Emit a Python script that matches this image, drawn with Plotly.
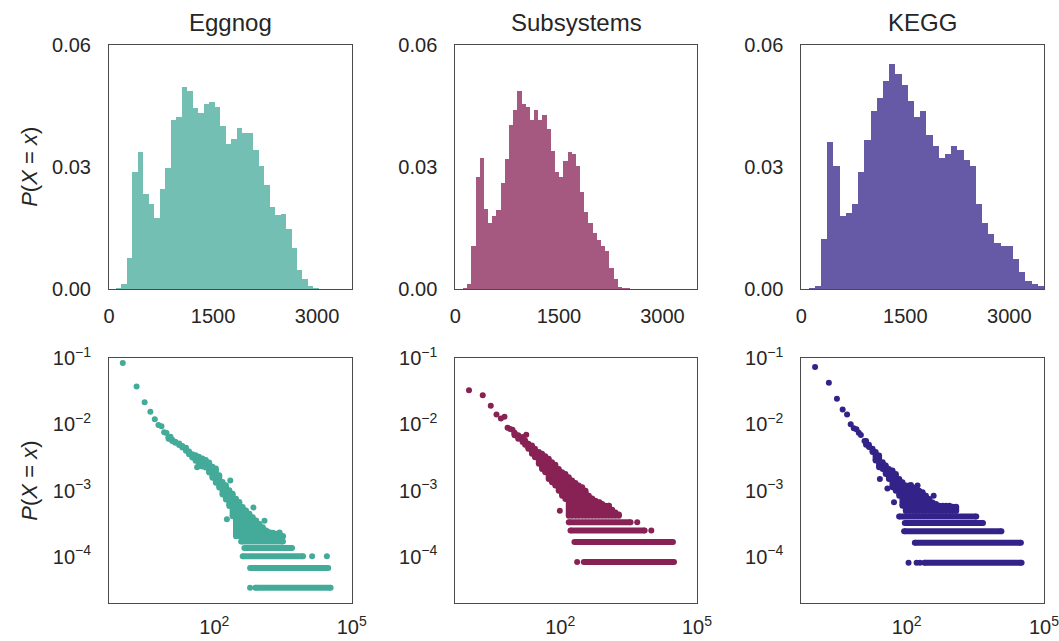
import plotly.graph_objects as go

# ---------------- top row: length distributions (probability per bin) ----------------
eggnog_hist = [0.0002, 0.0012, 0.0078, 0.0289, 0.0336, 0.0233, 0.0209, 0.0176, 0.0246, 0.0297,
               0.0417, 0.0424, 0.0497, 0.0487, 0.0446, 0.0434, 0.0455, 0.0460, 0.0448, 0.0402,
               0.0358, 0.0368, 0.0397, 0.0383, 0.0383, 0.0342, 0.0302, 0.0257, 0.0202, 0.0182,
               0.0184, 0.0147, 0.0101, 0.0048, 0.0025, 0.0009, 0.0003]
eggnog_bin_start, eggnog_bin_width = 101, 79.1

subsystems_hist = [0.0002, 0.0013, 0.0107, 0.0275, 0.0322, 0.0198, 0.0162, 0.0180, 0.0196, 0.0260,
                   0.0320, 0.0404, 0.0441, 0.0488, 0.0454, 0.0448, 0.0417, 0.0441, 0.0417, 0.0428,
                   0.0394, 0.0339, 0.0289, 0.0277, 0.0315, 0.0336, 0.0333, 0.0302, 0.0240, 0.0191,
                   0.0163, 0.0138, 0.0122, 0.0107, 0.0093, 0.0052, 0.0025, 0.0005, 0.0003, 0.0002]
subsystems_bin_start, subsystems_bin_width = 115, 60.6

kegg_hist = [0.0002, 0.0009, 0.0123, 0.0363, 0.0302, 0.0180, 0.0187, 0.0209, 0.0289, 0.0366,
             0.0437, 0.0471, 0.0512, 0.0554, 0.0529, 0.0503, 0.0463, 0.0424, 0.0439, 0.0378,
             0.0351, 0.0323, 0.0332, 0.0351, 0.0343, 0.0317, 0.0302, 0.0209, 0.0164, 0.0137,
             0.0114, 0.0106, 0.0106, 0.0075, 0.0042, 0.0020, 0.0012, 0.0007]
kegg_bin_start, kegg_bin_width = 111, 89.3

# ---------------- bottom row: degree distributions P(X = x) ----------------
# individually resolved points
eggnog_pts_x = [1, 2, 3, 4, 5, 6, 7, 8, 9, 11, 42, 223, 188, 713, 1245, 2661, 603, 13650, 28700]
eggnog_pts_y = [0.085, 0.0375, 0.0217, 0.0155, 0.0120, 0.0098, 0.0094, 0.0076, 0.0074, 0.0065,
                0.00226, 0.00142, 0.00037, 0.000557, 0.000349, 0.000232, 3.39e-5, 1.017e-4, 1.017e-4]
# densely packed cloud: for each x, the highest and lowest occupied P
eggnog_cloud_x = [10, 12, 14, 17, 20, 24, 28, 33, 39, 46, 55, 65, 77, 91, 108, 128, 151, 179,
                  212, 251, 297, 351, 416, 492, 583, 690, 817, 967, 1145, 1355, 1604, 1899,
                  2248, 2661, 3150]
eggnog_cloud_hi = [0.00646, 0.00587, 0.00548, 0.00517, 0.00471, 0.00444, 0.00391, 0.00356,
                   0.00343, 0.00324, 0.00306, 0.00289, 0.00266, 0.00229, 0.00215, 0.00171,
                   0.00135, 0.00120, 0.00101, 0.000898, 0.000754, 0.000671, 0.000563, 0.000501,
                   0.000446, 0.000397, 0.000353, 0.000314, 0.000280, 0.000249, 0.000235,
                   0.000230, 0.000222, 0.000222, 0.000204]
eggnog_cloud_lo = [0.00608, 0.00561, 0.00529, 0.00488, 0.00449, 0.00400, 0.00356, 0.00317,
                   0.00282, 0.00237, 0.00231, 0.00223, 0.00187, 0.00157, 0.00132, 0.00111,
                   0.000877, 0.000736, 0.000583, 0.000411, 0.000204, 0.000204, 0.000204,
                   0.000204, 0.000204, 0.000204, 0.000204, 0.000204, 0.000204, 0.000204,
                   0.000204, 0.000204, 0.000204, 0.000204, 0.000204]
# rows of values seen only a few times (constant P, spanning a range of x)
eggnog_rows_y = [1.695e-4, 1.356e-4, 1.017e-4, 6.78e-5, 3.39e-5]
eggnog_rows_x0 = [384, 453, 416, 603, 789]
eggnog_rows_x1 = [3150, 4966, 8670, 30700, 34600]

subsystems_pts_x = [1, 2, 3, 4, 5, 6, 7, 8, 9, 10, 18, 98, 364, 728, 1166, 235, 4890, 9960]
subsystems_pts_y = [0.033, 0.0277, 0.0191, 0.0141, 0.0123, 0.0131, 0.0089, 0.00853, 0.00834,
                    0.00724, 0.0070, 4.95e-4, 8.87e-4, 6.64e-4, 5.9e-4, 8.33e-5, 3.33e-4, 2.5e-4]
subsystems_cloud_x = [10, 12, 15, 17, 20, 24, 28, 34, 40, 47, 56, 66, 78, 93, 110, 130, 154,
                      182, 216, 255, 303, 358, 424, 502, 594, 703, 832, 985, 1166, 1380, 1633, 1933]
subsystems_cloud_hi = [0.00751, 0.00684, 0.00645, 0.00574, 0.00511, 0.00482, 0.00429, 0.00382,
                       0.00360, 0.00332, 0.00302, 0.00269, 0.00245, 0.00213, 0.00190, 0.00179,
                       0.00159, 0.00142, 0.00130, 0.00119, 0.00112, 0.000998, 0.000837,
                       0.000763, 0.000703, 0.000663, 0.000626, 0.000590, 0.000590, 0.000513,
                       0.000467, 0.000436]
subsystems_cloud_lo = [0.00684, 0.00608, 0.00541, 0.00493, 0.00429, 0.00360, 0.00320, 0.00254,
                       0.00213, 0.00190, 0.00150, 0.00134, 0.00119, 0.000998, 0.000837, 0.000745,
                       0.000416, 0.000416, 0.000416, 0.000416, 0.000416, 0.000416, 0.000416,
                       0.000416, 0.000416, 0.000416, 0.000416, 0.000416, 0.000416, 0.000416,
                       0.000416, 0.000416]
subsystems_rows_y = [3.33e-4, 2.5e-4, 1.667e-4, 8.33e-5]
subsystems_rows_x0 = [154, 168, 205, 329]
subsystems_rows_x1 = [3490, 7100, 29700, 31300]

kegg_pts_x = [1, 2, 3, 4, 5, 6, 7, 8, 9, 10, 12, 26, 53, 389, 124, 173, 38, 110, 165, 195]
kegg_pts_y = [0.074, 0.0427, 0.0244, 0.0168, 0.0141, 0.01005, 0.00873, 0.00843, 0.0075, 0.0069,
              0.0056, 0.0015, 6.64e-4, 8.37e-4, 1.22e-3, 1.19e-3, 1.08e-3, 8.13e-5, 8.13e-5, 8.13e-5]
kegg_cloud_x = [13, 15, 18, 21, 25, 30, 35, 41, 49, 58, 69, 81, 96, 114, 135, 159, 188, 223,
                264, 313, 370, 438, 519, 614, 727, 861, 1019, 1206]
kegg_cloud_hi = [0.00561, 0.00493, 0.00429, 0.00382, 0.00340, 0.00269, 0.00239, 0.00213,
                 0.00201, 0.00179, 0.00150, 0.00134, 0.00119, 0.00119, 0.00112, 0.00106,
                 0.000998, 0.000942, 0.000837, 0.000745, 0.000663, 0.000626, 0.000590,
                 0.000590, 0.000590, 0.000590, 0.000570, 0.000570]
kegg_cloud_lo = [0.00493, 0.00455, 0.00382, 0.00285, 0.00226, 0.00213, 0.00179, 0.00150,
                 0.00112, 0.000998, 0.000837, 0.000590, 0.000490, 0.000490, 0.000490, 0.000490,
                 0.000490, 0.000490, 0.000490, 0.000490, 0.000490, 0.000490, 0.000490,
                 0.000490, 0.000490, 0.000490, 0.000490, 0.000490]
kegg_rows_y = [4.07e-4, 3.25e-4, 2.44e-4, 1.626e-4, 8.13e-5]
kegg_rows_x0 = [68.5, 91, 88, 151, 243]
kegg_rows_x1 = [3320, 4650, 11750, 31300, 32400]

titles = ["Eggnog", "Subsystems", "KEGG"]
colors = ["#44AA99", "#882255", "#332288"]
fills = ["rgba(68,170,153,0.75)", "rgba(136,34,85,0.75)", "rgba(51,34,136,0.75)"]

hist_sets = [
    (eggnog_hist, eggnog_bin_start, eggnog_bin_width),
    (subsystems_hist, subsystems_bin_start, subsystems_bin_width),
    (kegg_hist, kegg_bin_start, kegg_bin_width),
]
deg_sets = [
    (eggnog_pts_x, eggnog_pts_y, eggnog_cloud_x, eggnog_cloud_hi, eggnog_cloud_lo,
     eggnog_rows_y, eggnog_rows_x0, eggnog_rows_x1),
    (subsystems_pts_x, subsystems_pts_y, subsystems_cloud_x, subsystems_cloud_hi,
     subsystems_cloud_lo, subsystems_rows_y, subsystems_rows_x0, subsystems_rows_x1),
    (kegg_pts_x, kegg_pts_y, kegg_cloud_x, kegg_cloud_hi, kegg_cloud_lo,
     kegg_rows_y, kegg_rows_x0, kegg_rows_x1),
]

W, H = 1059, 641
col_px = [(109, 351.7), (455.3, 697), (801.3, 1044)]
top_px = (44.7, 289)
bot_px = (358.3, 603)
FONT = "Liberation Sans"
TEXT = "#262626"
TICK_SIZE = 20
DOT = 6

fig = go.Figure()

for i, (hist, start, width) in enumerate(hist_sets):
    centers = [start + (k + 0.5) * width for k in range(len(hist))]
    fig.add_trace(go.Bar(x=centers, y=hist, width=width, marker=dict(color=fills[i], line=dict(width=0)),
                         xaxis=f"x{i + 1}", yaxis=f"y{i + 1}", showlegend=False, hoverinfo="skip"))

for i, (px_, py_, cx, chi, clo, ry, rx0, rx1) in enumerate(deg_sets):
    ax = dict(xaxis=f"x{i + 4}", yaxis=f"y{i + 4}", showlegend=False, hoverinfo="skip")
    seg_x, seg_y, end_x, end_y = [], [], [], []
    for x, hi, lo in zip(cx, chi, clo):
        seg_x += [x, x, None]
        seg_y += [hi, lo, None]
        end_x += [x, x]
        end_y += [hi, lo]
    for y, x0, x1 in zip(ry, rx0, rx1):
        seg_x += [x0, x1, None]
        seg_y += [y, y, None]
        end_x += [x0, x1]
        end_y += [y, y]
    fig.add_trace(go.Scatter(x=seg_x, y=seg_y, mode="lines",
                             line=dict(color=colors[i], width=DOT), **ax))
    fig.add_trace(go.Scatter(x=end_x + px_, y=end_y + py_, mode="markers",
                             marker=dict(color=colors[i], size=DOT, line=dict(width=0)), **ax))

layout = dict(width=W, height=H, margin=dict(l=0, r=0, t=0, b=0, autoexpand=False),
              autosize=False, plot_bgcolor="white", paper_bgcolor="white", bargap=0,
              font=dict(family=FONT, size=TICK_SIZE, color=TEXT))

frame = dict(showline=True, mirror=True, linecolor="#4a4a4a", linewidth=1, automargin=False,
             showgrid=False, zeroline=False, ticks="", ticklabeloverflow="allow",
             tickfont=dict(family=FONT, size=TICK_SIZE, color=TEXT))

for i in range(3):
    x0, x1 = col_px[i]
    xd = [x0 / W, x1 / W]
    # top row
    layout[f"xaxis{i + 1}"] = dict(frame, domain=xd, anchor=f"y{i + 1}", range=[0, 3500],
                                   tickvals=[0, 1500, 3000], ticktext=["0", "1500", "3000"],
                                   ticklabelstandoff=9)
    layout[f"yaxis{i + 1}"] = dict(frame, domain=[1 - top_px[1] / H, 1 - top_px[0] / H],
                                   anchor=f"x{i + 1}", range=[0, 0.06],
                                   tickvals=[0, 0.03, 0.06], ticktext=["0.00", "0.03", "0.06"],
                                   ticklabelstandoff=13)
    # bottom row
    layout[f"xaxis{i + 4}"] = dict(frame, domain=xd, anchor=f"y{i + 4}", type="log",
                                   range=[-0.30103, 5], tickvals=[1e2, 1e5],
                                   ticktext=["10<sup>2</sup>", "10<sup>5</sup>"],
                                   ticklabelstandoff=6)
    layout[f"yaxis{i + 4}"] = dict(frame, domain=[1 - bot_px[1] / H, 1 - bot_px[0] / H],
                                   anchor=f"x{i + 4}", type="log", range=[-4.69897, -1],
                                   tickvals=[1e-1, 1e-2, 1e-3, 1e-4],
                                   ticktext=["10<sup>−1</sup>", "10<sup>−2</sup>",
                                             "10<sup>−3</sup>", "10<sup>−4</sup>"],
                                   ticklabelstandoff=13)

annotations = []
for i, t in enumerate(titles):
    x0, x1 = col_px[i]
    annotations.append(dict(text=t, x=(x0 + x1) / 2 / W, y=1 - 22 / H, xref="paper", yref="paper",
                            showarrow=False, xanchor="center", yanchor="middle",
                            font=dict(family=FONT, size=24, color=TEXT)))
ylabel = "<i>P</i>(<i>X</i> = <i>x</i>)"
for (a, b) in (top_px, bot_px):
    annotations.append(dict(text=ylabel, x=30 / W, y=1 - (a + b) / 2 / H, xref="paper", yref="paper",
                            showarrow=False, textangle=-90, xanchor="center", yanchor="middle",
                            font=dict(family=FONT, size=22, color=TEXT)))
layout["annotations"] = annotations

fig.update_layout(**layout)
fig.write_html("out.html")
